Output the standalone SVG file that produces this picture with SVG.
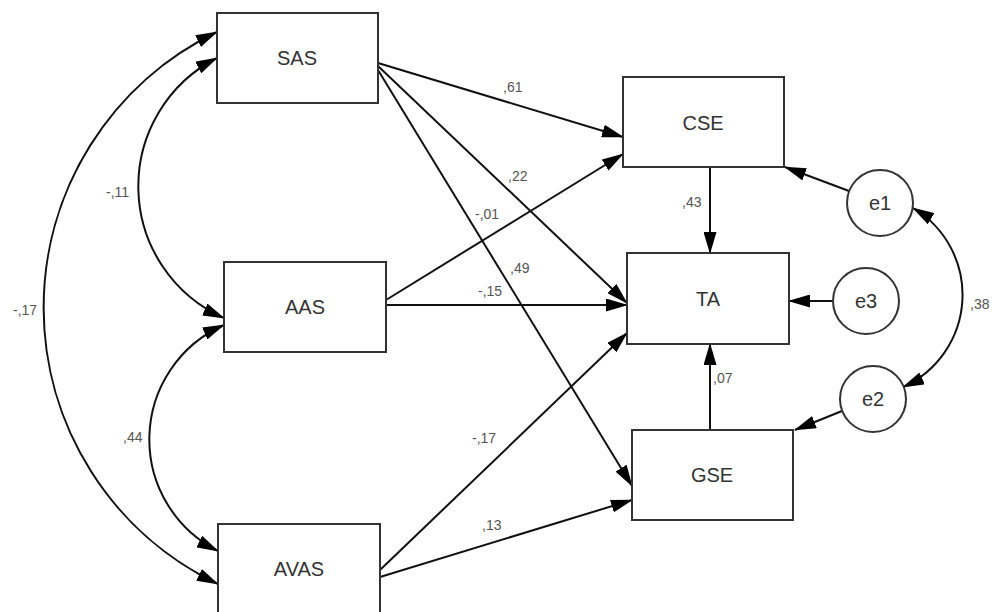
<svg xmlns="http://www.w3.org/2000/svg" width="992" height="612" viewBox="0 0 992 612">
<style>
.box{fill:#fff;stroke:#333;stroke-width:2}
.nt{font-family:"Liberation Sans",Arial,sans-serif;font-size:20px;fill:#333;text-anchor:middle}
.lb{font-family:"Liberation Sans",Arial,sans-serif;font-size:14px;fill:#555}
.c{fill:none;stroke:#111;stroke-width:2}
.a{marker-end:url(#ah)}
.b{marker-start:url(#ah);marker-end:url(#ah)}
</style>
<defs>
<marker id="ah" viewBox="0 0 22 13" markerWidth="22" markerHeight="13" markerUnits="userSpaceOnUse" refX="21" refY="6.5" orient="auto-start-reverse">
<path d="M0,0 L22,6.5 L0,13 z" fill="#000"/>
</marker>
</defs>
<rect width="992" height="612" fill="#fff"/>
<g id="connectors">
<path class="c a" d="M378,63 L623,137"/>
<path class="c a" d="M378,66 L627,303"/>
<path class="c a" d="M378,70 L632,486"/>
<path class="c a" d="M386,300 L623,154"/>
<path class="c a" d="M386,305 L627,305"/>
<path class="c a" d="M380,570 L627,333"/>
<path class="c a" d="M380,577 L632,500"/>
<path class="c a" d="M710,167 L710,253"/>
<path class="c a" d="M710,430 L710,344"/>
<path class="c a" d="M849,191 L785,167"/>
<path class="c a" d="M833,301 L789,301"/>
<path class="c a" d="M842,411 L795,430"/>
<path class="c b" d="M217,58 A144,144 0 0 0 224,318"/>
<path class="c b" d="M224,325 A125,125 0 0 0 218,551"/>
<path class="c b" d="M217,32 A306,306 0 0 0 218,584"/>
<path class="c b" d="M913,208 A101,101 0 0 1 903,387"/>
</g>
<g id="labels">
<text class="lb" x="503" y="92">,61</text>
<text class="lb" x="508" y="181">,22</text>
<text class="lb" x="475" y="219">-,01</text>
<text class="lb" x="510" y="273">,49</text>
<text class="lb" x="478" y="296">-,15</text>
<text class="lb" x="106" y="197">-,11</text>
<text class="lb" x="13" y="315">-,17</text>
<text class="lb" x="123" y="442">,44</text>
<text class="lb" x="472" y="443">-,17</text>
<text class="lb" x="482" y="530">,13</text>
<text class="lb" x="682" y="207">,43</text>
<text class="lb" x="713" y="383">,07</text>
<text class="lb" x="970" y="309">,38</text>
</g>
<g id="SAS"><rect class="box" x="217" y="13" width="161" height="90"/><text class="nt" x="297" y="65">SAS</text></g>
<g id="AAS"><rect class="box" x="224" y="262" width="162" height="90"/><text class="nt" x="305" y="314">AAS</text></g>
<g id="AVAS"><rect class="box" x="218" y="524" width="162" height="92"/><text class="nt" x="299" y="576">AVAS</text></g>
<g id="CSE"><rect class="box" x="623" y="77" width="161" height="90"/><text class="nt" x="703" y="130">CSE</text></g>
<g id="TA"><rect class="box" x="627" y="253" width="162" height="91"/><text class="nt" x="708" y="306">TA</text></g>
<g id="GSE"><rect class="box" x="632" y="430" width="161" height="90"/><text class="nt" x="712" y="482">GSE</text></g>
<g id="e1"><circle class="box" cx="880" cy="203" r="33"/><text class="nt" x="880" y="210">e1</text></g>
<g id="e3"><circle class="box" cx="866" cy="301" r="33"/><text class="nt" x="866" y="308">e3</text></g>
<g id="e2"><circle class="box" cx="873" cy="399" r="33"/><text class="nt" x="873" y="406">e2</text></g>
</svg>
